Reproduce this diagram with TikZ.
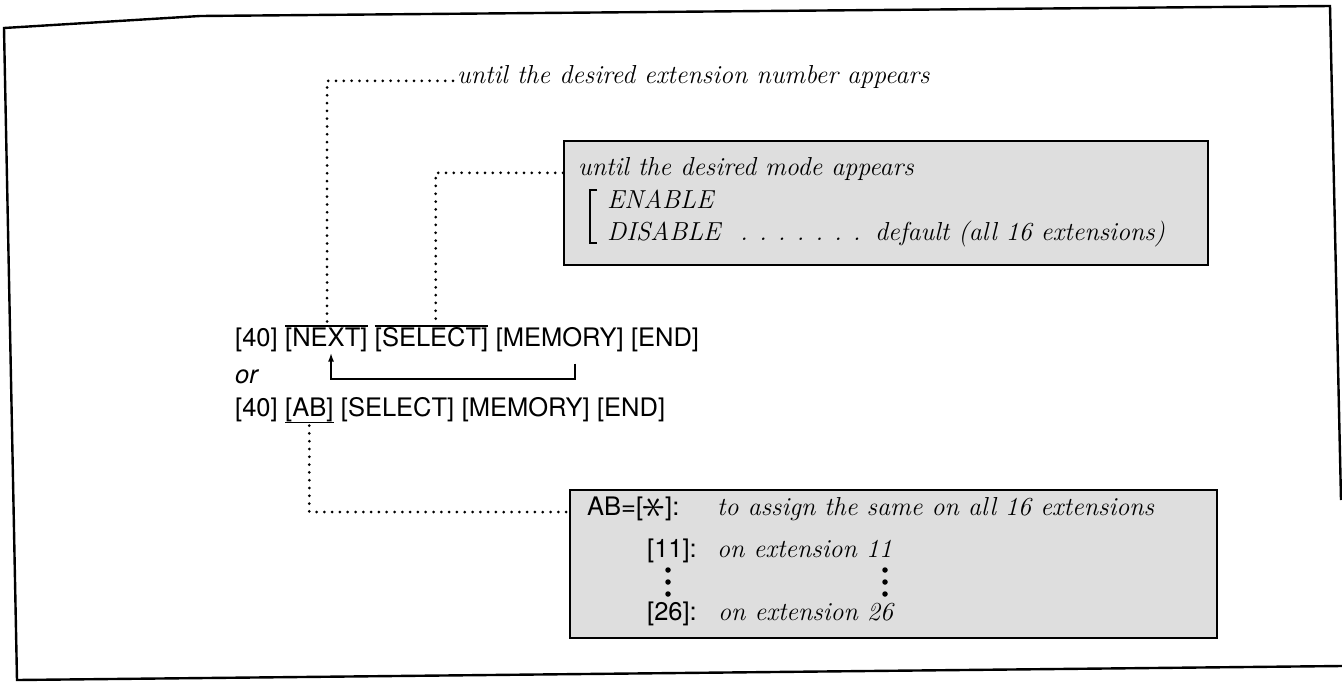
\documentclass[tikz,border=0pt]{standalone}
\usepackage{fontspec}
\usepackage{graphicx}
\setsansfont{TeX Gyre Heros}
\usetikzlibrary{calc,arrows.meta}
\newcommand\starkey{\raisebox{-0.16em}{\rotatebox[origin=c]{90}{\scalebox{1.9}{$\ast$}}}}
\tikzset{
  btn/.style={font=\sffamily\fontsize{25.5}{30}\selectfont, inner sep=0pt, anchor=base west},
  itx/.style={font=\itshape\fontsize{26}{30}\selectfont, inner sep=0pt, anchor=base west},
  orx/.style={font=\sffamily\itshape\fontsize{25.5}{30}\selectfont, inner sep=0pt, anchor=base west},
  dotline/.style={line width=3pt, line cap=round, dash pattern=on 0pt off 7.8pt},
  greybox/.style={draw, line width=2pt, fill=black!13, inner sep=0pt, anchor=north west},
  frameline/.style={line width=2.4pt, line join=miter},
  bar/.style={line width=1.5pt},
  loopline/.style={line width=2pt, -{Latex[length=9pt,width=6pt]}},
  vdot/.style={circle, fill, inner sep=0pt, minimum size=5.5pt},
}
\begin{document}
\begin{tikzpicture}[x=1pt,y=-1pt]
\useasboundingbox (0,0) rectangle (1342,686);
% page frame
\draw[frameline] (1341,500) -- (1330,6) -- (200,16) -- (4,28) -- (17,680) -- (1342,666);

% top note
\node[itx] (t1) at (457,83) {until the desired extension number appears};

% first key sequence
\node[btn] (a40) at (235,346) {[40]};
\node[btn] (anext) at ($(a40.base east)+(7.1,0)$) {[NEXT]};
\node[btn] (asel) at ($(anext.base east)+(7.1,0)$) {[SELECT]};
\node[btn] (amem) at ($(asel.base east)+(7.1,0)$) {[MEMORY]};
\node[btn] (aend) at ($(amem.base east)+(7.1,0)$) {[END]};
\node[orx] (or) at (235,383) {or};
% second key sequence
\node[btn] (b40) at (235,416) {[40]};
\node[btn] (bab) at ($(b40.base east)+(7.1,0)$) {[AB]};
\node[btn] (bsel) at ($(bab.base east)+(7.1,0)$) {[SELECT]};
\node[btn] (bmem) at ($(bsel.base east)+(7.1,0)$) {[MEMORY]};
\node[btn] (bend) at ($(bmem.base east)+(7.1,0)$) {[END]};

% over/underlines
\draw[bar] ($(anext.north west)+(0,-1)$) -- ($(anext.north east)+(0,-1)$);
\draw[bar] ($(asel.north west)+(0,-1)$) -- ($(asel.north east)+(0,-1)$);
\draw[bar] ($(bab.south west)+(0,1)$) -- ($(bab.south east)+(0,1)$);

% box 1
\node[greybox, minimum width=644pt, minimum height=124pt] (box1) at (563,140) {};
\node[itx] (m1) at (578,175) {until the desired mode appears};
\node[itx] (m2) at (607,208) {ENABLE};
\node[itx] (m3) at (607,240) {DISABLE};
\node[itx] (m3d) at (740,240) {.\hspace{11pt}.\hspace{11pt}.\hspace{11pt}.\hspace{11pt}.\hspace{11pt}.\hspace{11pt}.};
\node[itx] (m4) at (875,240) {default (all 16 extensions)};
\draw[line width=1.8pt] (597,190) -- (590,190) -- (590,243) -- (597,243);

% box 2
\node[greybox, minimum width=647pt, minimum height=148pt] (box2) at (569,489) {};
\node[btn] (ab) at (587,515) {AB=[\starkey]:};
\node[itx] (ab2) at (717,515) {to assign the same on all 16 extensions};
\node[btn] (e11) at (647,557) {[11]:};
\node[itx] (e11t) at (717,557) {on extension 11};
\node[btn] (e26) at (647,620) {[26]:};
\node[itx] (e26t) at (718,620) {on extension 26};
\foreach \yy in {570,582,594}{
  \node[vdot] at (668,\yy) {};
  \node[vdot] at (885,\yy) {};
}

% connectors
\coordinate (c1) at ($(anext.north west)+(42,-1)$);
\draw[dotline] ($(t1.mid west)+(-4,0)$) -| (c1);
\coordinate (c2) at ($(asel.north west)+(61,-1)$);
\draw[dotline] (box1.west |- m1.mid) -| (c2);
\coordinate (c3) at ($(bab.south)+(0,4)$);
\draw[dotline] (c3) |- ($(box2.west |- ab.base)+(0,-3)$);

% return arrow
\coordinate (r1) at ($(amem.south west)+(79,12)$);
\coordinate (r2) at ($(anext.south west)+(46,1)$);
\draw[loopline] (r1) -- ($(r1)+(0,15)$) -| (r2);
\end{tikzpicture}
\end{document}
